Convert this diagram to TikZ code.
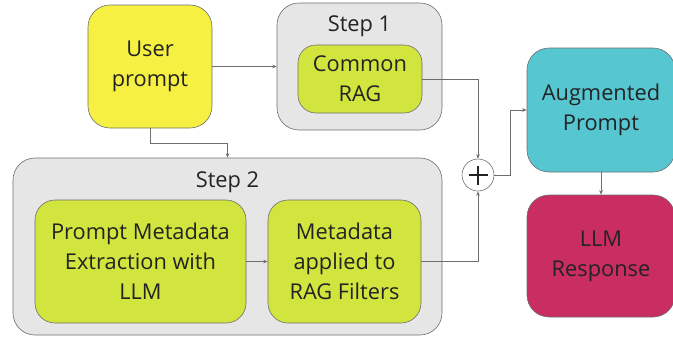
\documentclass[tikz,border=0pt]{standalone}
\usepackage{fontspec}
\setmainfont{Open Sans}
\usetikzlibrary{arrows.meta}

\definecolor{userYellow}{RGB}{246,240,66}
\definecolor{ragGreen}{RGB}{210,228,62}
\definecolor{stepGray}{RGB}{230,230,230}
\definecolor{augTeal}{RGB}{86,199,209}
\definecolor{respRed}{RGB}{201,45,98}
\definecolor{edgeGray}{RGB}{110,110,110}
\definecolor{txtGray}{RGB}{35,35,35}

\begin{document}
\begin{tikzpicture}[x=1pt, y=-1pt,
		box/.style={draw=edgeGray, line width=0.6pt, rounded corners=22pt, align=center,
			text=txtGray, font=\fontsize{21.8}{30}\selectfont},
		stepbox/.style={box, fill=stepGray},
		link/.style={draw=edgeGray, line width=0.6pt},
		arr/.style={link, -{Stealth[length=4.5pt, width=3.5pt]}}]

		\useasboundingbox (0,0) rectangle (673,341);

		% Step frames (grey)
		\node[stepbox, minimum width=165pt, minimum height=127pt] (step1) at (359.5,66.5) {};
		\node[stepbox, minimum width=429pt, minimum height=177pt] (step2) at (227.5,246.5) {};
		\node[text=txtGray, font=\fontsize{21.8}{26}\selectfont] (step1lbl) at (359.5,26.5) {Step 1};
		\node[text=txtGray, font=\fontsize{21.8}{26}\selectfont] (step2lbl) at (227.5,182.5) {Step 2};

		% Main boxes
		\node[box, fill=userYellow, minimum width=124pt, minimum height=123pt] (user) at (150,66.5) {User\\prompt};
		\node[box, fill=ragGreen, rounded corners=18pt, minimum width=124pt, minimum height=68pt] (rag) at (360,79) {Common\\RAG};
		\node[box, fill=ragGreen, rounded corners=20pt, minimum width=211pt, minimum height=123pt] (extract) at (140.5,261.5) {Prompt Metadata\\Extraction with\\LLM};
		\node[box, fill=ragGreen, rounded corners=20pt, minimum width=153pt, minimum height=123pt] (filters) at (344.5,261.5) {Metadata\\applied to\\RAG Filters};
		\node[box, fill=augTeal, minimum width=148pt, minimum height=124pt] (aug) at (601,110) {Augmented\\Prompt};
		\node[box, fill=respRed, minimum width=148pt, minimum height=122pt] (resp) at (601,256) {LLM\\Response};

		% Sum node
		\node[circle, draw=edgeGray, line width=0.6pt, fill=white, minimum size=32pt,
			path picture={
				\draw[line width=2.2pt, txtGray] ([xshift=-9.5pt]path picture bounding box.center) -- ([xshift=9.5pt]path picture bounding box.center);
				\draw[line width=2.2pt, txtGray] ([yshift=-9.5pt]path picture bounding box.center) -- ([yshift=9.5pt]path picture bounding box.center);
			}] (plus) at (478,175) {};

		% Connectors
		\draw[arr] (user.east) -- (step1.west);
		\draw[arr] (user.south) -- ++(0,15) -| (step2.north);
		\draw[arr] (extract.east) -- (filters.west);
		\draw[arr] (rag.east) -| (plus.north);
		\draw[arr] (filters.east) -| (plus.south);
		\draw[arr] (plus.east) -- ++(16,0) |- (aug.west);
		\draw[arr] (aug.south) -- (resp.north);

	\end{tikzpicture}
\end{document}
